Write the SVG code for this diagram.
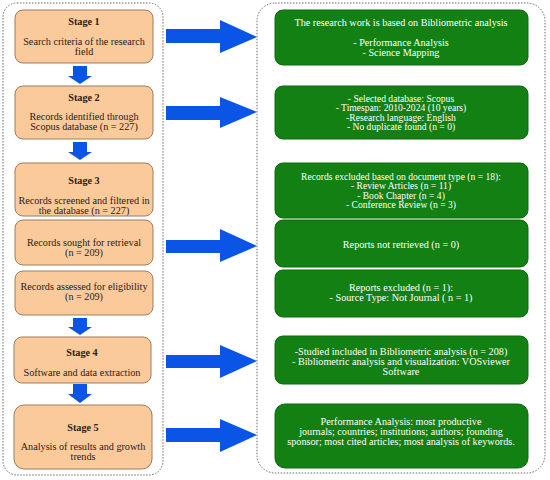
<svg xmlns="http://www.w3.org/2000/svg" width="550" height="480" viewBox="0 0 550 480">
<style>
.frame{fill:none;stroke:#6a6a6a;stroke-width:1;stroke-dasharray:1.5 1.5}
.ob{fill:#FACA9B;stroke:#9E7C5A;stroke-width:1}
.gb{fill:#128012;stroke:#0c6a0c;stroke-width:1}
.ot{font-family:"Liberation Serif","Times New Roman",serif;font-size:10.2px;fill:#2b2118;text-anchor:middle}
.bt{font-weight:bold}
.gt{font-family:"Liberation Serif","Times New Roman",serif;font-size:10.2px;fill:#ffffff;text-anchor:middle}
.sm{font-size:9.6px}
.ar{fill:#0B55E6}
</style>
<rect class="frame" x="3" y="3" width="160" height="472" rx="14"/>
<rect class="frame" x="257" y="3" width="288" height="470" rx="18"/>
<g id="connectors">
<polygon class="ar" points="73,66 87,66 87,76 92,76 80,84 68,76 73,76"/>
<polygon class="ar" points="73,142 87,142 87,152 92,152 80,160 68,152 73,152"/>
<polygon class="ar" points="73,318 87,318 87,327 92,327 80,335 68,327 73,327"/>
<polygon class="ar" points="73,384 87,384 87,394 92,394 80,403 68,394 73,394"/>
<polygon class="ar" points="166,29 220,29 220,20 257,37 220,53 220,43 166,43"/>
<polygon class="ar" points="166,106 220,106 220,97 257,112 220,128 220,120 166,120"/>
<polygon class="ar" points="166,240 220,240 220,229 257,246 220,262 220,253 166,253"/>
<polygon class="ar" points="166,355 220,355 220,345 257,361 220,378 220,368 166,368"/>
<polygon class="ar" points="166,428 220,428 220,419 257,435 220,452 220,442 166,442"/>
</g>
<g id="stage1"><rect class="ob" x="15" y="10" width="138" height="53" rx="8"/>
<text class="ot bt" x="84" y="25">Stage 1</text>
<text class="ot" x="84" y="45">Search criteria of the research</text>
<text class="ot" x="84" y="55">field</text></g>
<g id="stage2"><rect class="ob" x="15" y="86" width="138" height="53" rx="8"/>
<text class="ot bt" x="84" y="101">Stage 2</text>
<text class="ot" x="84" y="120">Records identified through</text>
<text class="ot" x="84" y="130">Scopus database (n = 227)</text></g>
<g id="stage3"><rect class="ob" x="15" y="163" width="138" height="53" rx="8"/>
<text class="ot bt" x="84" y="184">Stage 3</text>
<text class="ot" x="84" y="204">Records screened and filtered in</text>
<text class="ot" x="84" y="214">the database (n = 227)</text></g>
<g id="sought"><rect class="ob" x="15" y="220" width="138" height="45" rx="8"/>
<text class="ot" x="84" y="246">Records sought for retrieval</text>
<text class="ot" x="84" y="256">(n = 209)</text></g>
<g id="assessed"><rect class="ob" x="15" y="271" width="138" height="44" rx="8"/>
<text class="ot" x="84" y="290">Records assessed for eligibility</text>
<text class="ot" x="84" y="300">(n = 209)</text></g>
<g id="stage4"><rect class="ob" x="14" y="337" width="137" height="46" rx="8"/>
<text class="ot bt" x="82" y="356">Stage 4</text>
<text class="ot" x="82" y="376">Software and data extraction</text></g>
<g id="stage5"><rect class="ob" x="14" y="405" width="138" height="64" rx="10"/>
<text class="ot bt" x="83" y="431">Stage 5</text>
<text class="ot" x="83" y="450">Analysis of results and growth</text>
<text class="ot" x="83" y="460">trends</text></g>
<g id="g1"><rect class="gb" x="275" y="10" width="253" height="55" rx="8"/>
<text class="gt" x="401" y="26">The research work is based on Bibliometric analysis</text>
<text class="gt" x="401" y="46">- Performance Analysis</text>
<text class="gt" x="401" y="56">- Science Mapping</text></g>
<g id="g2"><rect class="gb" x="275" y="86" width="253" height="53" rx="8"/>
<text class="gt sm" x="401" y="101.5">- Selected database: Scopus</text>
<text class="gt sm" x="401" y="111">- Timespan: 2010-2024 (10 years)</text>
<text class="gt sm" x="401" y="120.5">-Research language: English</text>
<text class="gt sm" x="401" y="130">- No duplicate found (n = 0)</text></g>
<g id="g3"><rect class="gb" x="275" y="163" width="253" height="55" rx="8"/>
<text class="gt sm" x="401" y="179.5">Records excluded based on document type (n = 18):</text>
<text class="gt sm" x="401" y="189">- Review Articles (n = 11)</text>
<text class="gt sm" x="401" y="198.5">- Book Chapter (n = 4)</text>
<text class="gt sm" x="401" y="208">- Conference Review (n = 3)</text></g>
<g id="g4"><rect class="gb" x="275" y="220" width="253" height="47" rx="8"/>
<text class="gt" x="401" y="248">Reports not retrieved (n = 0)</text></g>
<g id="g5"><rect class="gb" x="275" y="270" width="253" height="47" rx="8"/>
<text class="gt" x="401" y="291">Reports excluded (n = 1):</text>
<text class="gt" x="401" y="301">- Source Type: Not Journal ( n = 1)</text></g>
<g id="g6"><rect class="gb" x="275" y="336" width="253" height="48" rx="8"/>
<text class="gt" x="401" y="355">-Studied included in Bibliometric analysis (n = 208)</text>
<text class="gt" x="401" y="365">- Bibliometric analysis and visualization: VOSviewer</text>
<text class="gt" x="401" y="375">Software</text></g>
<g id="g7"><rect class="gb" x="275" y="404" width="253" height="64" rx="10"/>
<text class="gt" x="401" y="425">Performance Analysis: most productive</text>
<text class="gt" x="401" y="435">journals; countries; institutions; authors; founding</text>
<text class="gt" x="401" y="445">sponsor; most cited articles; most analysis of keywords.</text></g>
</svg>
